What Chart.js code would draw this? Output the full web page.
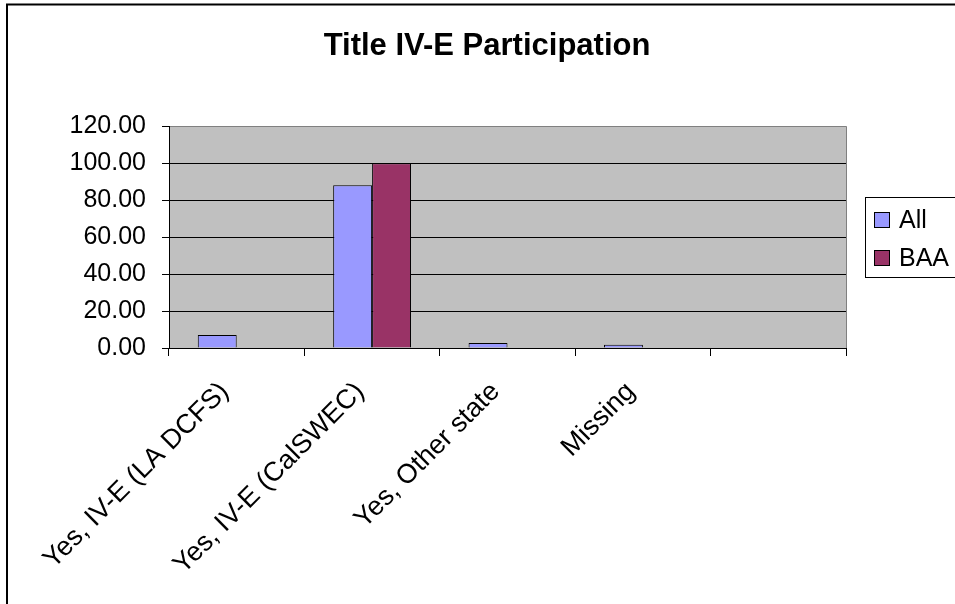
<!DOCTYPE html>
<html>
<head>
<meta charset="utf-8">
<script src="https://cdn.jsdelivr.net/npm/chart.js@4.4.1/dist/chart.umd.min.js"></script>
<style>
  body { margin: 0; background: #fff; }
  canvas { display: block; }
</style>
</head>
<body>
<canvas id="grafico" width="955" height="604"></canvas>
<script>
// dados
const categorias = ["Yes, IV-E (LA DCFS)", "Yes, IV-E (CalSWEC)", "Yes, Other state", "Missing", ""];
const valoresAll = [7.0, 88.1, 2.7, 1.8, null];
const valoresBAA = [0, 100, 0, 0, null];
const nomesSeries = ["All", "BAA"];
const coresSeries = ["#9999FF", "#993366"];
const ticksY = [0, 20, 40, 60, 80, 100, 120];

const fonte = "'Liberation Sans', Arial, sans-serif";

// fundo cinza da área de plotagem + borda direita
const fundoPlot = {
    id: 'fundoPlot',
    afterLayout(chart) {
        // centraliza o título sobre a região do gráfico (sem a legenda)
        if (chart.titleBlock) {
            chart.titleBlock.left = 128;
            chart.titleBlock.right = 846;
        }
    },
    beforeDraw(chart) {
        const { ctx, chartArea: a } = chart;
        ctx.save();
        ctx.fillStyle = '#C0C0C0';
        ctx.fillRect(a.left, a.top, a.right - a.left, a.bottom - a.top);
        ctx.strokeStyle = '#808080';
        ctx.lineWidth = 1;
        ctx.beginPath();
        ctx.moveTo(Math.round(a.right) + 0.5, a.top);
        ctx.lineTo(Math.round(a.right) + 0.5, a.bottom);
        ctx.stroke();
        ctx.restore();
    }
};

// legenda desenhada à mão (caixa com borda) + moldura externa
const legendaBox = {
    id: 'legendaBox',
    afterDraw(chart) {
        const ctx = chart.ctx;
        ctx.save();
        ctx.strokeStyle = '#000';
        ctx.lineWidth = 1;
        ctx.fillStyle = '#fff';
        ctx.fillRect(865.5, 197.5, 100, 80);
        ctx.strokeRect(865.5, 197.5, 100, 80);
        ctx.font = '25px ' + fonte;
        ctx.textBaseline = 'middle';
        chart.data.datasets.forEach((ds, i) => {
            const y = 212 + i * 38;
            ctx.fillStyle = ds.backgroundColor;
            ctx.fillRect(874.5, y + 0.5, 15, 15);
            ctx.strokeRect(874.5, y + 0.5, 15, 15);
            ctx.fillStyle = '#000';
            ctx.fillText(ds.label, 899, y + 9);
        });
        // moldura do gráfico
        ctx.lineWidth = 2;
        ctx.strokeRect(7, 4.5, 1000, 1000);
        ctx.restore();
    }
};

const ctx = document.getElementById('grafico').getContext('2d');

let grafico = new Chart(ctx, {
    type: 'bar',
    data: {
        labels: categorias,
        datasets: [{
            label: nomesSeries[0],
            data: valoresAll,
            backgroundColor: coresSeries[0],
            borderColor: '#000',
            borderWidth: 1
        }, {
            label: nomesSeries[1],
            data: valoresBAA,
            backgroundColor: coresSeries[1],
            borderColor: '#000',
            borderWidth: 1
        }]
    },
    options: {
        responsive: false,
        animation: false,
        devicePixelRatio: 1,
        categoryPercentage: 0.575,
        barPercentage: 1,
        layout: {
            padding: { left: 0, right: 109, top: 0, bottom: 0 }
        },
        plugins: {
            legend: { display: false },
            tooltip: { enabled: false },
            title: {
                display: true,
                text: 'Title IV-E Participation',
                color: '#000',
                font: { family: fonte, size: 31, weight: 'bold' },
                padding: { top: 28, bottom: 61 }
            }
        },
        scales: {
            x: {
                offset: true,
                grid: {
                    offset: true,
                    drawOnChartArea: false,
                    drawTicks: true,
                    tickLength: 8,
                    tickColor: '#000'
                },
                border: { color: '#000', width: 1 },
                ticks: {
                    color: '#000',
                    font: { family: fonte, size: 27 },
                    minRotation: 45,
                    maxRotation: 45,
                    autoSkip: false,
                    labelOffset: -12,
                    padding: 20
                },
                afterFit(scale) { scale.height = 256; }
            },
            y: {
                min: 0,
                max: 120,
                afterBuildTicks(scale) { scale.ticks = ticksY.map(v => ({ value: v })); },
                grid: {
                    color: c => (c.tick && c.tick.value === 120) ? '#808080' : '#000',
                    tickColor: '#000',
                    tickLength: 7,
                    lineWidth: 1
                },
                border: { color: '#000', width: 1 },
                ticks: {
                    color: '#000',
                    font: { family: fonte, size: 25 },
                    padding: 16,
                    callback: v => Number(v).toFixed(2)
                },
                afterFit(scale) { scale.width = 169; }
            }
        }
    },
    plugins: [fundoPlot, legendaBox]
});
</script>
</body>
</html>
